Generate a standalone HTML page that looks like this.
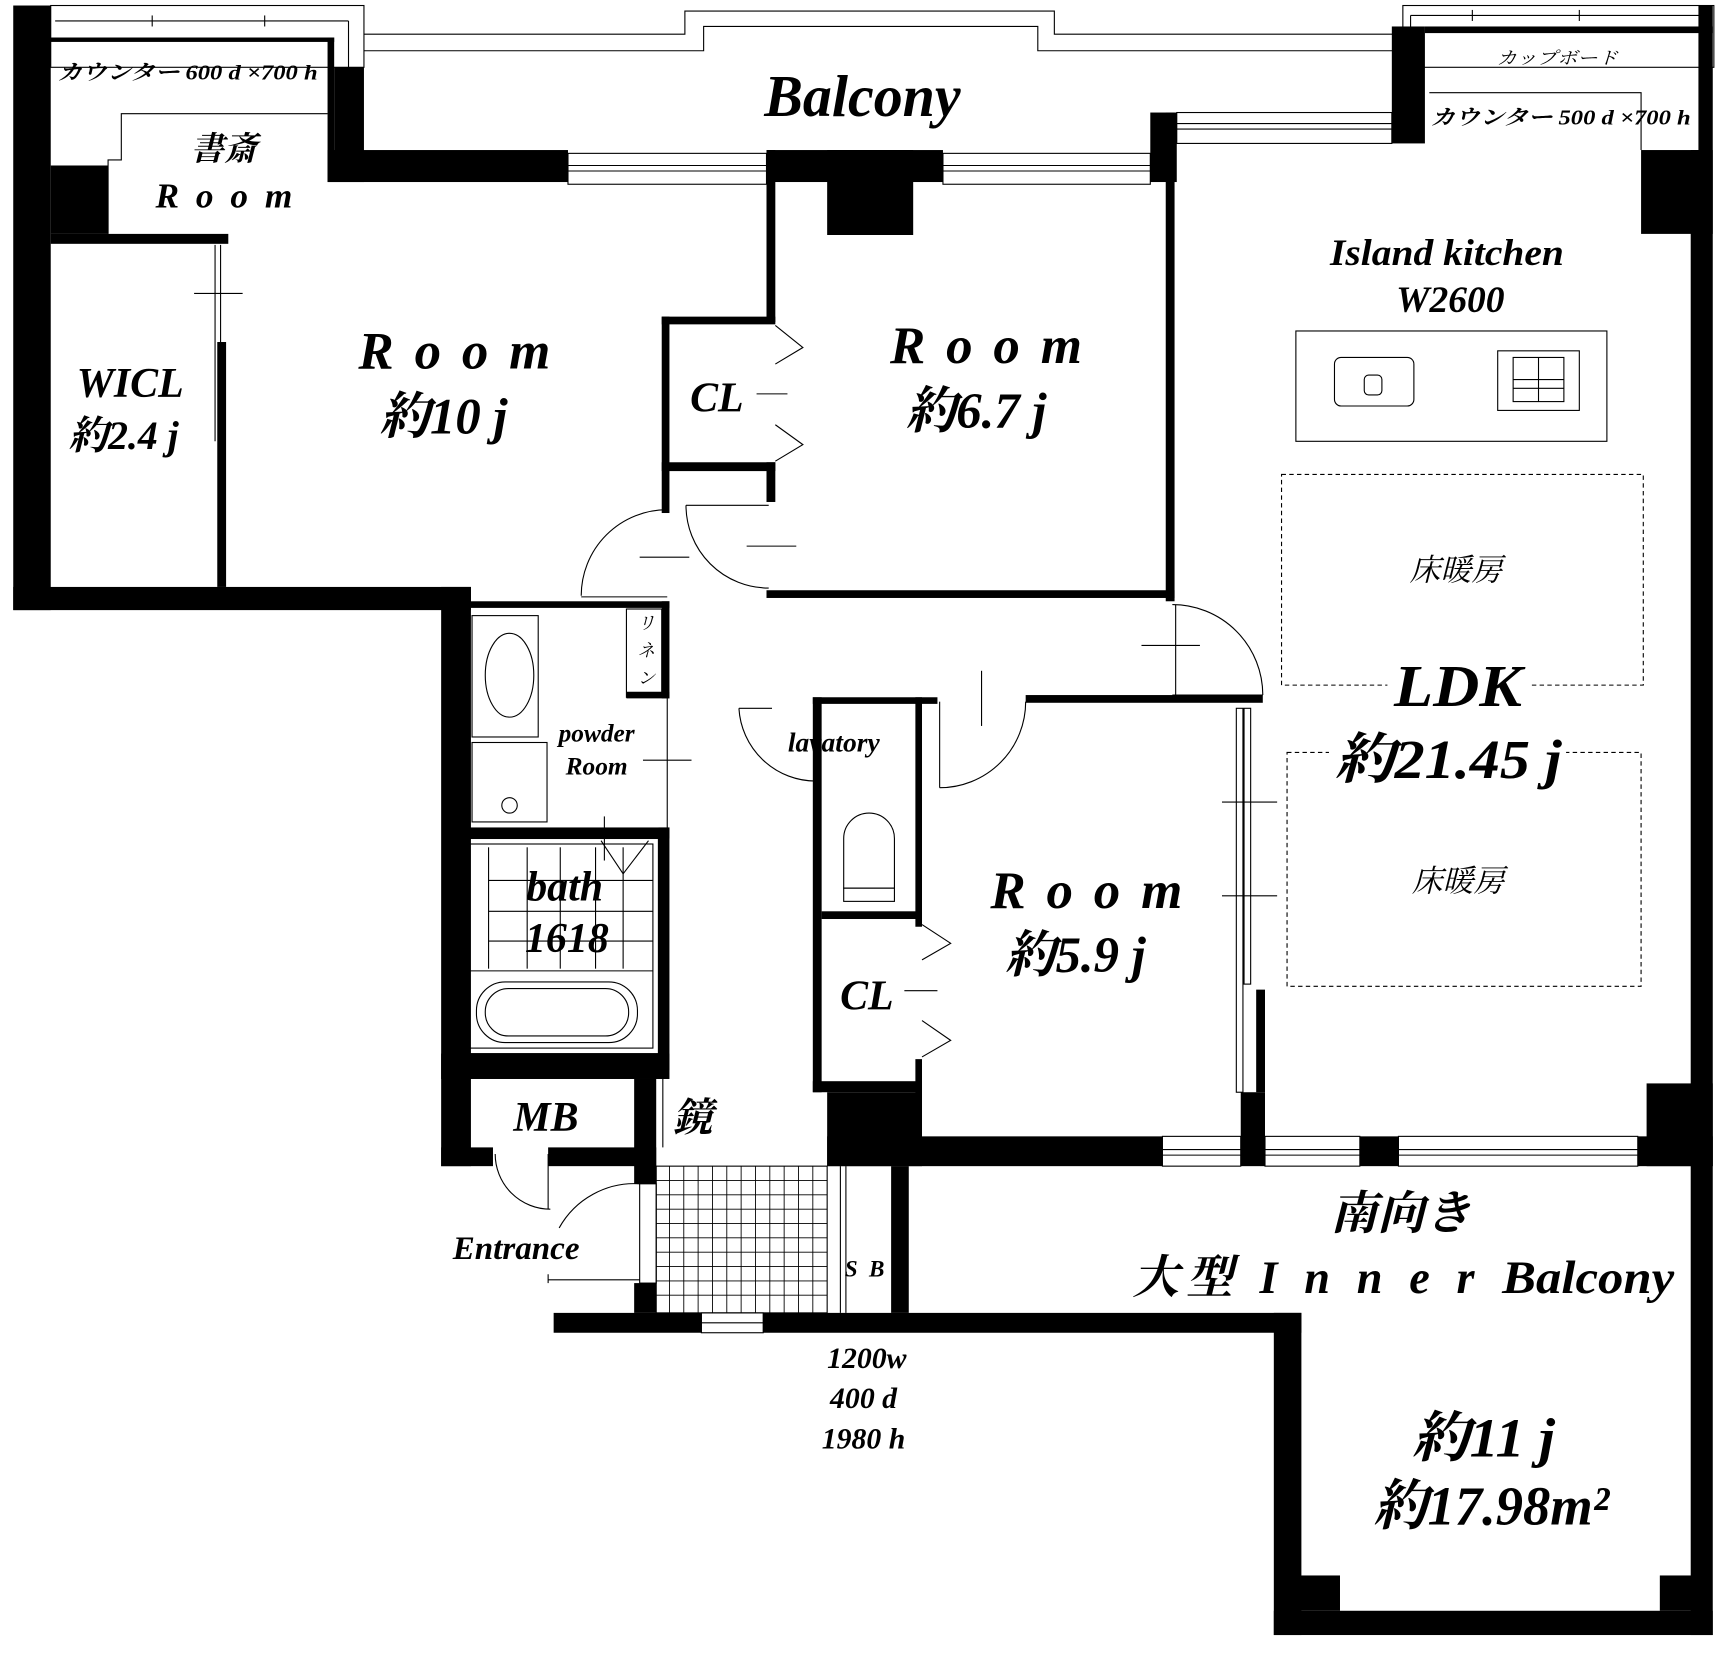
<!DOCTYPE html>
<html><head><meta charset="utf-8"><style>
html,body{margin:0;padding:0;background:#fff;}
svg{display:block;}
text{font-family:"Liberation Serif","Noto Serif CJK JP","Noto Serif CJK SC",serif;font-style:italic;font-weight:bold;fill:#000;text-anchor:middle;}
text.n{font-weight:normal;}
</style></head><body>
<svg width="1726" height="1656" viewBox="0 0 1565 1501" preserveAspectRatio="none" xmlns="http://www.w3.org/2000/svg">
<rect width="1565" height="1501" fill="#fff"/>
<g fill="none" stroke="#000" stroke-width="1">
<polyline points="330,31 621,31 621,10 956,10 956,31 1272,31"/>
<polyline points="330,46 638,46 638,24 941,24 941,46 1272,46"/>
<rect x="46" y="5" width="284" height="56"/>
<line x1="50" y1="19" x2="316" y2="19"/><line x1="316" y1="19" x2="316" y2="61"/>
<line x1="138" y1="14" x2="138" y2="24"/><line x1="240" y1="14" x2="240" y2="24"/>
<rect x="1272" y="5" width="282" height="56"/>
<line x1="1279" y1="14" x2="1550" y2="14"/><line x1="1279" y1="14" x2="1279" y2="61"/>
<line x1="1335" y1="9" x2="1335" y2="19"/><line x1="1432" y1="9" x2="1432" y2="19"/>
<polyline points="297,103 110,103 110,145 98,145 98,212"/>
<polyline points="1296,84 1488,84 1488,136"/>
<rect x="515" y="139" width="180" height="28"/><line x1="515" y1="150" x2="695" y2="150"/><line x1="515" y1="155" x2="695" y2="155"/>
<rect x="855" y="139" width="188" height="28"/><line x1="855" y1="150" x2="1043" y2="150"/><line x1="855" y1="155" x2="1043" y2="155"/>
<rect x="1067" y="102" width="195" height="28"/><line x1="1067" y1="112" x2="1262" y2="112"/><line x1="1067" y1="117" x2="1262" y2="117"/>
<rect x="1054" y="1030" width="71" height="27"/><line x1="1054" y1="1042" x2="1125" y2="1042"/><line x1="1054" y1="1047" x2="1125" y2="1047"/>
<rect x="1147" y="1030" width="86" height="27"/><line x1="1147" y1="1042" x2="1233" y2="1042"/><line x1="1147" y1="1047" x2="1233" y2="1047"/>
<rect x="1268" y="1030" width="217" height="27"/><line x1="1268" y1="1042" x2="1485" y2="1042"/><line x1="1268" y1="1047" x2="1485" y2="1047"/>
<rect x="636" y="1190" width="56" height="18"/><line x1="636" y1="1199" x2="692" y2="1199"/>
<line x1="195" y1="222" x2="195" y2="400"/><line x1="200" y1="222" x2="200" y2="400"/>
<line x1="176" y1="266" x2="220" y2="266"/>
<polyline points="703,295 728,315 703,330"/><polyline points="703,385 728,403 703,418"/>
<line x1="686" y1="357" x2="714" y2="357"/>
<polyline points="836,838 862,855 836,870"/><polyline points="836,925 862,943 836,958"/>
<line x1="820" y1="898" x2="850" y2="898"/>
<path d="M527,540 A78,78 0 0 1 605,462"/><line x1="527" y1="541" x2="605" y2="541"/><line x1="580" y1="505" x2="625" y2="505"/>
<path d="M622,458 A75,75 0 0 0 697,533"/><line x1="622" y1="458" x2="697" y2="458"/><line x1="677" y1="495" x2="722" y2="495"/>
<path d="M1063,548 A82,82 0 0 1 1145,630"/><line x1="1063" y1="630" x2="1145" y2="630"/><line x1="1066" y1="548" x2="1066" y2="630"/><line x1="1035" y1="585" x2="1088" y2="585"/>
<path d="M930,636 A78,78 0 0 1 852,714"/><line x1="852" y1="636" x2="852" y2="714"/><line x1="890" y1="608" x2="890" y2="658"/>
<path d="M670,642 A70,70 0 0 0 740,708"/><line x1="670" y1="642" x2="700" y2="642"/>
<path d="M449,1046 A50,50 0 0 0 499,1096"/><line x1="497" y1="1046" x2="497" y2="1096"/>
<path d="M507,1113 A78,78 0 0 1 580,1073"/><line x1="497" y1="1155" x2="497" y2="1163"/><line x1="497" y1="1160" x2="580" y2="1160"/>
<rect x="580" y="1073" width="15" height="90"/>
<rect x="1121" y="642" width="6" height="348"/><rect x="1128" y="642" width="6" height="250"/>
<line x1="1108" y1="727" x2="1158" y2="727"/><line x1="1108" y1="812" x2="1158" y2="812"/>
<rect x="428" y="558" width="60" height="110"/><ellipse cx="462" cy="612" rx="22" ry="38"/>
<rect x="428" y="673" width="68" height="72"/><circle cx="462" cy="730" r="7"/>
<rect x="568" y="552" width="32" height="80"/>
<line x1="605" y1="633" x2="605" y2="750"/><line x1="583" y1="689" x2="627" y2="689"/>
<polyline points="545,762 565,792 588,762"/><line x1="548" y1="740" x2="548" y2="780"/>
<rect x="420" y="760" width="177" height="195"/><rect x="425" y="765" width="167" height="185"/>
<line x1="425" y1="880" x2="592" y2="880"/>
<line x1="443" y1="768" x2="443" y2="878"/>
<line x1="443" y1="798" x2="592" y2="798"/><line x1="443" y1="826" x2="592" y2="826"/><line x1="443" y1="853" x2="592" y2="853"/>
<line x1="478" y1="768" x2="478" y2="878"/><line x1="508" y1="768" x2="508" y2="878"/><line x1="540" y1="768" x2="540" y2="878"/><line x1="565" y1="768" x2="565" y2="878"/>
<rect x="432" y="890" width="146" height="55" rx="26"/><rect x="440" y="896" width="130" height="43" rx="21"/>
<path d="M765,805 L765,760 A23,23 0 0 1 811,760 L811,805 Z"/><rect x="765" y="805" width="46" height="12"/>
<rect x="1175" y="300" width="282" height="100"/>
<rect x="1210" y="324" width="72" height="44" rx="6"/><rect x="1237" y="340" width="16" height="18" rx="4"/>
<rect x="1358" y="318" width="74" height="54"/><rect x="1372" y="324" width="46" height="40"/>
<line x1="1372" y1="344" x2="1418" y2="344"/><line x1="1372" y1="352" x2="1418" y2="352"/><line x1="1395" y1="324" x2="1395" y2="364"/>
<rect x="1162" y="430" width="328" height="191" stroke-dasharray="4,3"/>
<rect x="1167" y="682" width="321" height="212" stroke-dasharray="4,3"/>
<rect x="595" y="1057" width="155" height="133"/>
<line x1="762" y1="1057" x2="762" y2="1190"/><line x1="767" y1="1057" x2="767" y2="1190"/>
<line x1="601" y1="978" x2="601" y2="1040"/>
</g>
<g stroke="#000" stroke-width="0.8">
<line x1="607" y1="1057" x2="607" y2="1190"/><line x1="620" y1="1057" x2="620" y2="1190"/><line x1="633" y1="1057" x2="633" y2="1190"/><line x1="646" y1="1057" x2="646" y2="1190"/><line x1="659" y1="1057" x2="659" y2="1190"/><line x1="672" y1="1057" x2="672" y2="1190"/><line x1="685" y1="1057" x2="685" y2="1190"/><line x1="698" y1="1057" x2="698" y2="1190"/><line x1="711" y1="1057" x2="711" y2="1190"/><line x1="724" y1="1057" x2="724" y2="1190"/><line x1="737" y1="1057" x2="737" y2="1190"/>
<line x1="595" y1="1070" x2="750" y2="1070"/><line x1="595" y1="1083" x2="750" y2="1083"/><line x1="595" y1="1096" x2="750" y2="1096"/><line x1="595" y1="1109" x2="750" y2="1109"/><line x1="595" y1="1122" x2="750" y2="1122"/><line x1="595" y1="1135" x2="750" y2="1135"/><line x1="595" y1="1148" x2="750" y2="1148"/><line x1="595" y1="1161" x2="750" y2="1161"/><line x1="595" y1="1174" x2="750" y2="1174"/>
</g>
<g fill="#000">
<rect x="12" y="5" width="34" height="548"/>
<rect x="12" y="532" width="415" height="21"/>
<rect x="46" y="34" width="257" height="4"/>
<rect x="297" y="34" width="6" height="131"/>
<rect x="303" y="61" width="27" height="104"/>
<rect x="46" y="150" width="52" height="62"/>
<rect x="46" y="212" width="161" height="9"/>
<rect x="197" y="310" width="8" height="222"/>
<rect x="297" y="136" width="218" height="29"/>
<rect x="695" y="136" width="160" height="29"/>
<rect x="750" y="136" width="78" height="77"/>
<rect x="695" y="136" width="8" height="156"/>
<rect x="600" y="287" width="103" height="7"/>
<rect x="600" y="287" width="7" height="178"/>
<rect x="600" y="419" width="103" height="8"/>
<rect x="695" y="419" width="8" height="36"/>
<rect x="1043" y="102" width="24" height="63"/>
<rect x="1057" y="102" width="8" height="443"/>
<rect x="695" y="535" width="370" height="7"/>
<rect x="1262" y="24" width="30" height="106"/>
<rect x="1292" y="24" width="261" height="6"/>
<rect x="1540" y="5" width="13" height="131"/>
<rect x="1488" y="136" width="65" height="76"/>
<rect x="1533" y="136" width="20" height="1346"/>
<rect x="400" y="532" width="27" height="525"/>
<rect x="427" y="545" width="180" height="6"/>
<rect x="600" y="545" width="7" height="88"/>
<rect x="568" y="627" width="39" height="6"/>
<rect x="415" y="750" width="192" height="10"/>
<rect x="415" y="750" width="5" height="210"/>
<rect x="597" y="750" width="10" height="220"/>
<rect x="400" y="955" width="207" height="23"/>
<rect x="400" y="1040" width="47" height="17"/>
<rect x="497" y="1040" width="98" height="17"/>
<rect x="575" y="978" width="20" height="95"/>
<rect x="575" y="1163" width="20" height="27"/>
<rect x="502" y="1190" width="134" height="18"/>
<rect x="692" y="1190" width="488" height="18"/>
<rect x="1155" y="1190" width="25" height="292"/>
<rect x="1155" y="1460" width="398" height="22"/>
<rect x="1178" y="1428" width="37" height="32"/>
<rect x="1505" y="1428" width="36" height="32"/>
<rect x="808" y="1057" width="16" height="133"/>
<rect x="750" y="990" width="86" height="67"/>
<rect x="750" y="1030" width="304" height="27"/>
<rect x="1125" y="990" width="22" height="67"/>
<rect x="1139" y="897" width="8" height="93"/>
<rect x="1233" y="1030" width="35" height="27"/>
<rect x="1485" y="1030" width="68" height="27"/>
<rect x="1493" y="982" width="60" height="75"/>
<rect x="737" y="632" width="8" height="358"/>
<rect x="737" y="632" width="113" height="6"/>
<rect x="930" y="630" width="215" height="7"/>
<rect x="745" y="826" width="91" height="7"/>
<rect x="830" y="632" width="6" height="208"/>
<rect x="830" y="960" width="6" height="70"/>
<rect x="737" y="980" width="99" height="10"/>
</g>
<text x="782" y="105" font-size="54" textLength="178" lengthAdjust="spacingAndGlyphs">Balcony</text>
<text x="170" y="72" font-size="19" textLength="236" lengthAdjust="spacingAndGlyphs">カウンター 600 d ×700 h</text>
<text class="n" x="1412" y="58" font-size="16" textLength="110" lengthAdjust="spacingAndGlyphs">カップボード</text>
<text x="1415" y="113" font-size="19" textLength="236" lengthAdjust="spacingAndGlyphs">カウンター 500 d ×700 h</text>
<text x="203" y="145" font-size="30">書斎</text>
<text x="203" y="188" font-size="32" textLength="124" lengthAdjust="spacing">Room</text>
<text x="118" y="360" font-size="38">WICL</text>
<text x="112" y="407" font-size="36">約2.4 j</text>
<text x="412" y="334" font-size="48" textLength="174" lengthAdjust="spacing">Room</text>
<text x="402" y="393" font-size="46">約10 j</text>
<text x="650" y="373" font-size="38">CL</text>
<text x="894" y="329" font-size="48" textLength="174" lengthAdjust="spacing">Room</text>
<text x="885" y="388" font-size="46">約6.7 j</text>
<text x="1312" y="240" font-size="34" textLength="212" lengthAdjust="spacingAndGlyphs">Island kitchen</text>
<text x="1315" y="283" font-size="34">W2600</text>
<text class="n" x="1320" y="526" font-size="28">床暖房</text>
<rect x="1258" y="596" width="130" height="44" fill="#fff"/>
<text x="1322" y="640" font-size="54" textLength="116" lengthAdjust="spacingAndGlyphs">LDK</text>
<rect x="1205" y="665" width="215" height="50" fill="#fff"/>
<text x="1313" y="705" font-size="50" textLength="206" lengthAdjust="spacingAndGlyphs">約21.45 j</text>
<text class="n" x="1322" y="808" font-size="28">床暖房</text>
<text class="n" x="586" y="570" font-size="16">リ</text><text class="n" x="586" y="595" font-size="16">ネ</text><text class="n" x="586" y="620" font-size="16">ン</text>
<text x="541" y="672" font-size="23">powder</text>
<text x="541" y="702" font-size="23">Room</text>
<text x="756" y="681" font-size="25">lavatory</text>
<text x="512" y="816" font-size="38">bath</text>
<text x="514" y="863" font-size="38">1618</text>
<text x="985" y="823" font-size="48" textLength="174" lengthAdjust="spacing">Room</text>
<text x="975" y="881" font-size="46">約5.9 j</text>
<text x="786" y="915" font-size="38">CL</text>
<text x="495" y="1025" font-size="38">MB</text>
<text x="628" y="1025" font-size="36">鏡</text>
<text x="468" y="1141" font-size="30">Entrance</text>
<text x="784" y="1157" font-size="21" textLength="36" lengthAdjust="spacing">SB</text>
<text x="786" y="1240" font-size="27">1200w</text>
<text x="783" y="1276" font-size="27">400 d</text>
<text x="783" y="1313" font-size="27">1980 h</text>
<text x="1270" y="1114" font-size="42" textLength="128" lengthAdjust="spacingAndGlyphs">南向き</text>
<text x="1182" y="1172" font-size="42" textLength="310" lengthAdjust="spacing" xml:space="preserve">大型 I n n e r</text>
<text x="1440" y="1172" font-size="42" textLength="156" lengthAdjust="spacingAndGlyphs">Balcony</text>
<text x="1345" y="1320" font-size="50" textLength="130" lengthAdjust="spacingAndGlyphs">約11 j</text>
<text x="1352" y="1382" font-size="50" textLength="214" lengthAdjust="spacingAndGlyphs">約17.98m²</text>
</svg>
</body></html>
